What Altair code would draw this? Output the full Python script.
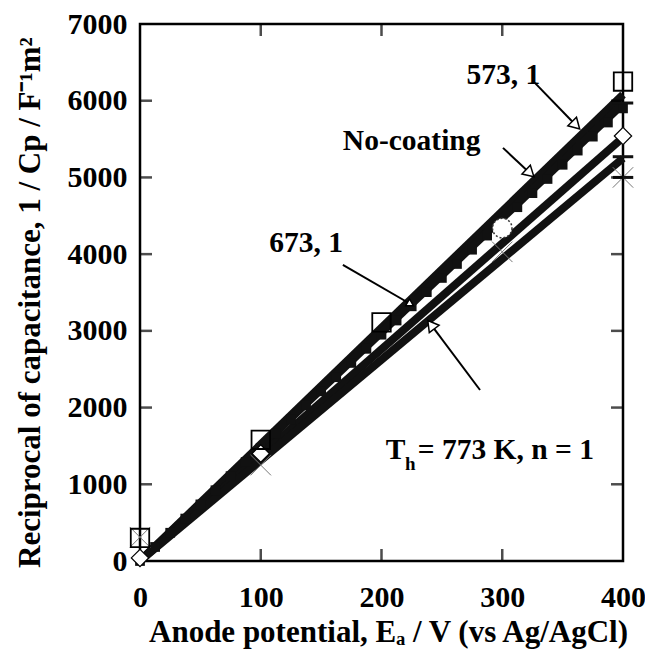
import altair as alt
import pandas as pd

FONT = "Liberation Serif"

# ---- axis ticks ----
x_ticks = [0, 100, 200, 300, 400]
y_ticks = [0, 1000, 2000, 3000, 4000, 5000, 6000, 7000]
inner_x_ticks = [100, 200, 300]
inner_y_ticks = [1000, 2000, 3000, 4000, 5000, 6000]

# ---- fitted (thick) lines: start and end points ----
line_series = ["573, 1", "No-coating", "673, 1", "773, 1"]
line_x_start = [0, 0, 0, 0]
line_y_start = [0, 0, 0, 0]
line_x_end = [400, 400, 400, 400]
line_y_end = [6080, 5960, 5520, 5250]

# ---- open squares ----
sq_x = [0, 100, 200, 400]
sq_y = [300, 1580, 3110, 6250]

# ---- white diamonds ----
dm_x = [0, 100, 400]
dm_y = [40, 1400, 5540]

# ---- thin grey crosses ----
cr_x = [0, 100, 300, 400]
cr_y = [310, 1250, 4030, 5000]

# ---- dashed circle ----
ci_x = [300]
ci_y = [4340]

# ---- horizontal dash markers ----
ds_x = [400, 400, 400]
ds_y = [5970, 5270, 5000]

# ---- dense small filled markers (no-coating) ----
nc_x = [0, 12.5, 25, 37.5, 50, 62.5, 75, 87.5, 100, 112.5, 125, 137.5, 150,
        162.5, 175, 187.5, 200, 212.5, 225, 237.5, 250, 262.5, 275, 287.5,
        300, 312.5, 325, 337.5, 350, 362.5, 375, 387.5, 400]
nc_y = [0, 183, 368, 553, 738, 922, 1106, 1290, 1475, 1660, 1843, 2028, 2212,
        2396, 2582, 2766, 2950, 3135, 3320, 3505, 3690, 3872, 4058, 4242,
        4426, 4612, 4795, 4980, 5165, 5350, 5532, 5716, 5900]

# ---- annotation arrows ----
arr_x = [327, 300.6, 168, 281.6]
arr_y = [6232, 5385, 3859, 2229]
arr_x2 = [361, 323, 224, 241]
arr_y2 = [5680, 5055, 3350, 3080]
head_angle = [135, 133, 120, 323]
head_size = [150, 150, 60, 150]

# ---- annotation texts ----
txt = ["573, 1", "No-coating", "673, 1"]
txt_x = [301, 225, 137.5]
txt_y = [6336, 5476, 4146]
th_main = ["T", "= 773 K, n = 1"]
th_x = [203.5, 230]
th_y = [1447, 1447]
th_sub = ["h"]
th_sub_x = [219.5]
th_sub_y = [1262]

FS = 30
AFS = 29.5
TFS = 31

x_axis = alt.Axis(values=x_ticks, format="d", title="Anode potential, Eₐ / V (vs Ag/AgCl)",
                  ticks=False, domain=False, grid=False, labelFont=FONT,
                  labelFontSize=FS, labelFontWeight="bold", labelColor="black",
                  labelPadding=21, labelFlush=False, labelOverlap=False,
                  titleFont=FONT, titleFontSize=TFS, titleFontWeight="bold",
                  titleColor="black", titleX=248, titleY=71,
                  titleBaseline="middle", titleAlign="center")
y_axis = alt.Axis(values=y_ticks, format="d", title="Reciprocal of capacitance, 1 / Cp  / F⁻¹m²",
                  ticks=False, domain=False, grid=False, labelFont=FONT,
                  labelFontSize=FS, labelFontWeight="bold", labelColor="black",
                  labelPadding=13, labelFlush=False, labelOverlap=False,
                  labelBaseline="middle",
                  titleFont=FONT, titleFontSize=TFS, titleFontWeight="bold",
                  titleColor="black", titleX=-110, titleY=278, titleAngle=270,
                  titleBaseline="middle", titleAlign="center")

xs = alt.Scale(domain=[0, 400], nice=False, zero=False)
ys = alt.Scale(domain=[0, 7000], nice=False, zero=False)
X = alt.X("x:Q", scale=xs, axis=x_axis)
Y = alt.Y("y:Q", scale=ys, axis=y_axis)

rows = []
for s, xa, ya, xb, yb in zip(line_series, line_x_start, line_y_start, line_x_end, line_y_end):
    rows.append({"s": s, "x": xa, "y": ya})
    rows.append({"s": s, "x": xb, "y": yb})
lines_df = pd.DataFrame(rows)

lines = alt.Chart(lines_df).mark_line(color="#111111", strokeWidth=8, strokeCap="butt").encode(
    x=X, y=Y, detail="s:N")

dense = alt.Chart(pd.DataFrame({"x": nc_x, "y": nc_y})).mark_point(
    shape="square", filled=True, color="#111111", size=95, opacity=1).encode(x=X, y=Y)

crosses = alt.Chart(pd.DataFrame({"x": cr_x, "y": cr_y})).mark_point(
    shape="M-1,-1L1,1M-1,1L1,-1", filled=False, stroke="#777777", strokeWidth=1,
    size=420, opacity=1).encode(x=X, y=Y)

diamonds = alt.Chart(pd.DataFrame({"x": dm_x, "y": dm_y})).mark_point(
    shape="diamond", filled=True, fill="white", stroke="black", strokeWidth=1.2,
    size=300, opacity=1).encode(x=X, y=Y)

squares = alt.Chart(pd.DataFrame({"x": sq_x, "y": sq_y})).mark_point(
    shape="square", filled=False, stroke="black", strokeWidth=1.8,
    size=340, opacity=1).encode(x=X, y=Y)

circle = alt.Chart(pd.DataFrame({"x": ci_x, "y": ci_y})).mark_point(
    shape="circle", filled=True, fill="white", stroke="#333333", strokeWidth=1.5,
    strokeDash=[2, 2], size=380, opacity=1).encode(x=X, y=Y)

dashes = alt.Chart(pd.DataFrame({"x": ds_x, "y": ds_y})).mark_point(
    shape="stroke", filled=False, stroke="#111111", strokeWidth=3,
    size=420, opacity=1).encode(x=X, y=Y)

arr_df = pd.DataFrame({"x": arr_x, "y": arr_y, "x2": arr_x2, "y2": arr_y2})
arrows = alt.Chart(arr_df).mark_rule(color="black", strokeWidth=2).encode(
    x=X, y=Y, x2="x2:Q", y2="y2:Q")
head_df = pd.DataFrame({"x": arr_x2, "y": arr_y2, "ang": head_angle, "sz": head_size})
heads = alt.Chart(head_df).mark_point(
    shape="triangle-up", filled=True, fill="white", stroke="black", strokeWidth=1.5,
    opacity=1).encode(
    x=X, y=Y,
    angle=alt.Angle("ang:Q", scale=None), size=alt.Size("sz:Q", scale=None))

texts = alt.Chart(pd.DataFrame({"x": txt_x, "y": txt_y, "t": txt})).mark_text(
    font=FONT, fontSize=AFS, fontWeight="bold", color="black", align="center",
    baseline="middle").encode(x=X, y=Y, text="t:N")
th_text = alt.Chart(pd.DataFrame({"x": th_x, "y": th_y, "t": th_main})).mark_text(
    font=FONT, fontSize=AFS, fontWeight="bold", color="black", align="left",
    baseline="middle").encode(x=X, y=Y, text="t:N")
th_subt = alt.Chart(pd.DataFrame({"x": th_sub_x, "y": th_sub_y, "t": th_sub})).mark_text(
    font=FONT, fontSize=19, fontWeight="bold", color="black", align="left",
    baseline="middle").encode(x=X, y=Y, text="t:N")

xt_df = pd.DataFrame({"x": inner_x_ticks})
yt_df = pd.DataFrame({"y": inner_y_ticks})
tick_bottom = alt.Chart(xt_df).mark_tick(color="black", thickness=2.5, size=12, orient="vertical").encode(
    x=X, y=alt.value(531))
tick_top = alt.Chart(xt_df).mark_tick(color="black", thickness=2.5, size=12, orient="vertical").encode(
    x=X, y=alt.value(6))
tick_left = alt.Chart(yt_df).mark_tick(color="black", thickness=2.5, size=12, orient="horizontal").encode(
    y=Y, x=alt.value(6))
tick_right = alt.Chart(yt_df).mark_tick(color="black", thickness=2.5, size=12, orient="horizontal").encode(
    y=Y, x=alt.value(477))

chart = alt.layer(
    lines, dense, crosses, diamonds, squares, circle, dashes,
    arrows, heads, texts, th_text, th_subt,
    tick_bottom, tick_top, tick_left, tick_right
).properties(
    width=483, height=537,
    padding={"left": 140, "top": 24, "right": 22, "bottom": 103},
    autosize=alt.AutoSizeParams(type="none"),
    background="white",
).configure_view(stroke="black", strokeWidth=2.5).configure_axis(
    labelFont=FONT, titleFont=FONT)

chart.save("out.html", embed_options={"renderer": "svg", "actions": False})
